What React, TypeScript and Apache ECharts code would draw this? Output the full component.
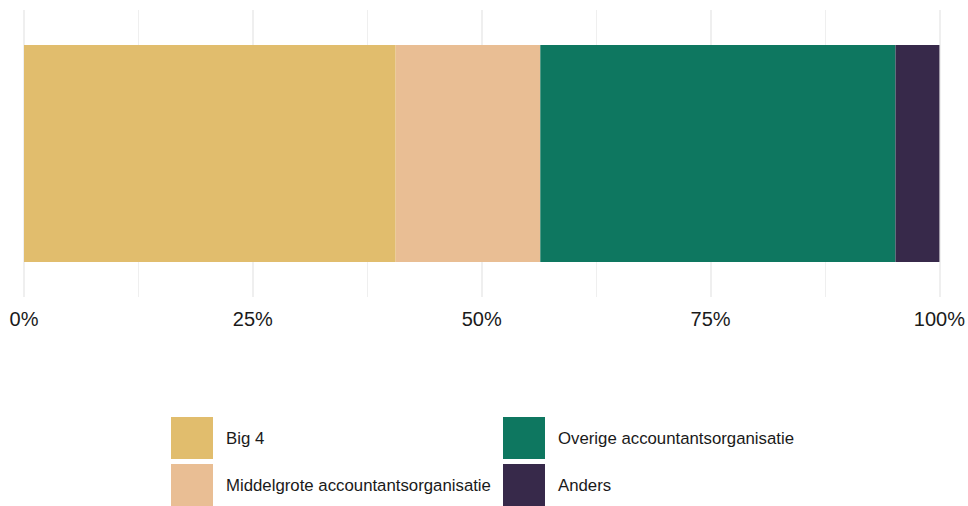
import React, { useEffect, useRef } from "react";
import * as echarts from "echarts";

const categories = ["Totaal"];
const seriesNames = [
  "Big 4",
  "Middelgrote accountantsorganisatie",
  "Overige accountantsorganisatie",
  "Anders",
];
const seriesValues = [[40.6], [15.8], [38.8], [4.8]];
const seriesColors = ["#E1BD6D", "#E9BE94", "#0E7760", "#37294A"];
const tickValues = [0, 25, 50, 75, 100];

export default function App() {
  const ref = useRef<HTMLDivElement>(null);
  useEffect(() => {
    if (!ref.current) return;
    const chart = echarts.init(ref.current, undefined, { renderer: "svg" });
    const legendText = {
      fontFamily: "Liberation Sans, Arial, sans-serif",
      fontSize: 16.8,
      color: "#1a1a1a",
      padding: [0, 0, 0, 8],
    };
    const legendBase = {
      orient: "vertical",
      top: 417,
      height: 120,
      padding: 0,
      itemWidth: 42,
      itemHeight: 42,
      itemGap: 5,
      icon: "rect",
      textStyle: legendText,
    };
    chart.setOption({
      animation: false,
      grid: { left: 24, right: 28, top: 10, bottom: 209, containLabel: false },
      xAxis: {
        type: "value",
        min: 0,
        max: 100,
        interval: 25,
        axisLine: { show: false },
        axisTick: { show: false },
        axisLabel: {
          margin: 12,
          fontSize: 20,
          fontFamily: "Liberation Sans, Arial, sans-serif",
          color: "#1a1a1a",
          formatter: (v: number) => (tickValues.includes(v) ? `${v}%` : ""),
        },
        splitLine: { show: true, lineStyle: { color: "#EBEBEB", width: 1.6 } },
        minorTick: { show: false, splitNumber: 2 },
        minorSplitLine: { show: true, lineStyle: { color: "#EBEBEB", width: 0.8 } },
      },
      yAxis: {
        type: "category",
        data: categories,
        show: false,
      },
      legend: [
        { ...legendBase, left: 171, data: [seriesNames[0], seriesNames[1]] },
        { ...legendBase, left: 503, data: [seriesNames[2], seriesNames[3]] },
      ],
      series: seriesNames.map((name, i) => ({
        name,
        type: "bar",
        stack: "total",
        data: seriesValues[i],
        barWidth: 217,
        itemStyle: { color: seriesColors[i] },
      })),
    });
    return () => chart.dispose();
  }, []);
  return (
    <div
      ref={ref}
      style={{ position: "fixed", left: 0, top: 0, width: 968, height: 506, background: "#fff" }}
    />
  );
}
